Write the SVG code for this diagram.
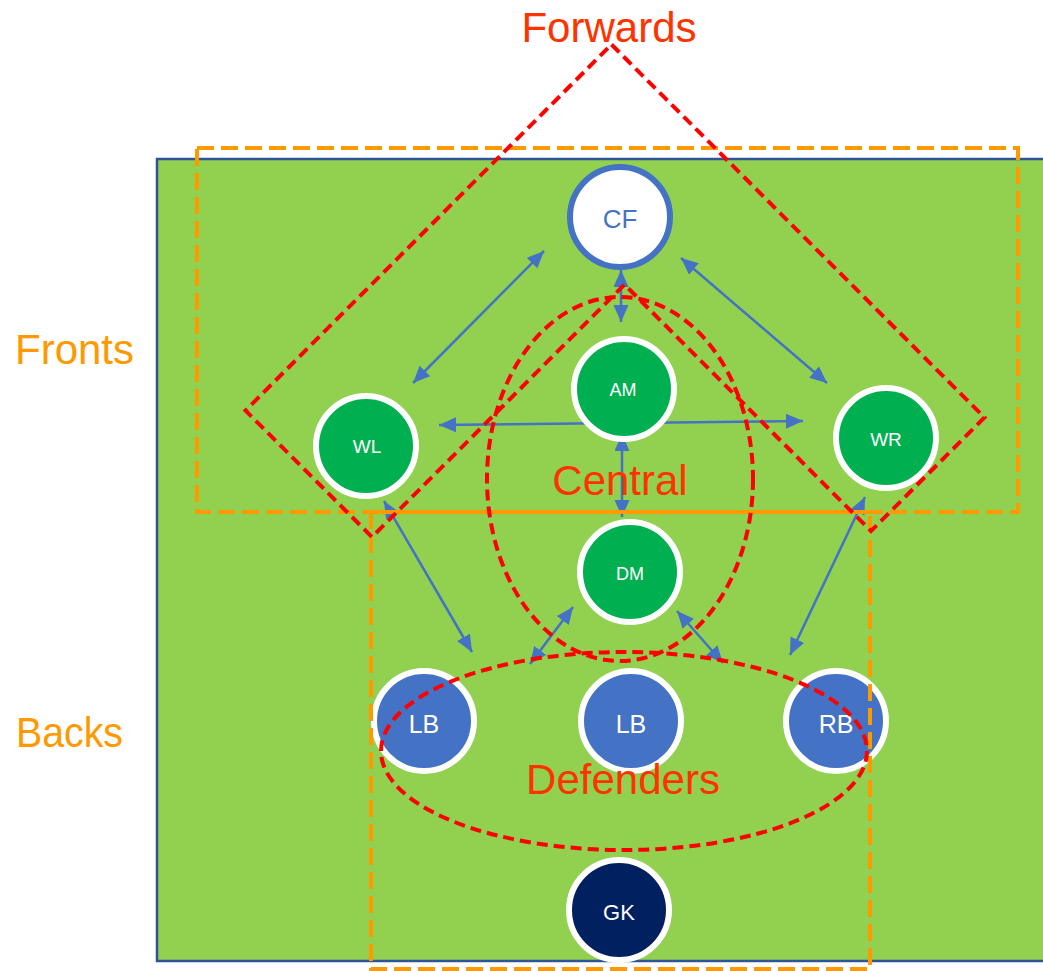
<svg xmlns="http://www.w3.org/2000/svg" width="1043" height="971" viewBox="0 0 1043 971">
<style>
.lbl{font-family:"Liberation Sans",Arial,sans-serif;text-anchor:middle}
.big{font-family:"Liberation Sans",Arial,sans-serif;font-size:42px}
.zone{fill:#FF3300}
.side{fill:#FF9900}
.ring{stroke:#FFFFFF;stroke-width:6}
.green{fill:#00B050}
.blue{fill:#4472C4}
.conn{stroke:#4472C4;stroke-width:2.5;fill:none;marker-start:url(#ah);marker-end:url(#ah)}
.orange{fill:none;stroke:#FF9900;stroke-width:4;stroke-dasharray:17 7}
.red{fill:none;stroke:#FF0000;stroke-width:4;stroke-dasharray:11 6}
</style>
<defs>
<marker id="ah" markerUnits="userSpaceOnUse" markerWidth="18" markerHeight="16" refX="17" refY="7.5" orient="auto-start-reverse" viewBox="0 0 18 16">
<path d="M0,0 L17,7.5 L0,15 z" fill="#4472C4"/>
</marker>
</defs>
<rect width="1043" height="971" fill="#FFFFFF"/>
<rect id="field" x="157" y="159" width="900" height="802" fill="#92D050" stroke="#2F5597" stroke-width="2.5"/>

<g id="connectors">
<line class="conn" x1="544" y1="251" x2="413" y2="383"/>
<line class="conn" x1="681" y1="258" x2="827" y2="383"/>
<line class="conn" x1="621" y1="270" x2="621" y2="322"/>
<line class="conn" x1="439" y1="425" x2="803" y2="421"/>
<line class="conn" x1="622" y1="434" x2="622" y2="517"/>
<line class="conn" x1="384" y1="501" x2="472" y2="652"/>
<line class="conn" x1="865" y1="497" x2="790" y2="655"/>
<line class="conn" x1="573" y1="607" x2="530" y2="664"/>
<line class="conn" x1="677" y1="611" x2="723" y2="663"/>
</g>

<g id="node-CF"><circle cx="620" cy="217" r="50" fill="#FFFFFF" stroke="#4472C4" stroke-width="6"/><text class="lbl" x="620" y="228" font-size="26" fill="#4472C4">CF</text></g>
<g id="node-AM"><circle class="green ring" cx="624" cy="389" r="50"/><text class="lbl" x="623" y="396" font-size="18" fill="#FFFFFF">AM</text></g>
<g id="node-WL"><circle class="green ring" cx="366" cy="446" r="50"/><text class="lbl" x="367" y="453" font-size="19" fill="#FFFFFF">WL</text></g>
<g id="node-WR"><circle class="green ring" cx="886" cy="438" r="50"/><text class="lbl" x="886" y="446" font-size="19" fill="#FFFFFF">WR</text></g>
<g id="node-DM"><circle class="green ring" cx="630" cy="572" r="50"/><text class="lbl" x="630" y="580" font-size="18" fill="#FFFFFF">DM</text></g>
<g id="node-LB1"><circle class="blue ring" cx="424" cy="721" r="50"/><text class="lbl" x="424" y="733" font-size="25" fill="#FFFFFF">LB</text></g>
<g id="node-LB2"><circle class="blue ring" cx="631" cy="721" r="50"/><text class="lbl" x="631" y="733" font-size="25" fill="#FFFFFF">LB</text></g>
<g id="node-RB"><circle class="blue ring" cx="836" cy="721" r="50"/><text class="lbl" x="836" y="733" font-size="25" fill="#FFFFFF">RB</text></g>
<g id="node-GK"><circle class="ring" cx="619" cy="910" r="50" fill="#002060"/><text class="lbl" x="619" y="920" font-size="22" fill="#FFFFFF">GK</text></g>

<g id="zone-fronts-box"><rect class="orange" x="197" y="148" width="821" height="364"/></g>
<g id="zone-backs-box"><path class="orange" d="M371,512 L371,969 L870,969 L870,512"/><line x1="371" y1="512" x2="870" y2="512" stroke="#FF9900" stroke-width="4"/></g>
<g id="zone-forwards"><path class="red" d="M611.5,44.5 L984.5,417.5 L871,531 L624.5,284.5 L372,537 L245.5,410.5 Z"/></g>
<g id="zone-central"><ellipse class="red" cx="620" cy="479" rx="133" ry="182"/></g>
<g id="zone-defenders"><ellipse class="red" cx="624" cy="751" rx="243" ry="99"/></g>

<g id="labels">
<text class="big zone" x="609" y="42" text-anchor="middle">Forwards</text>
<text class="big side" x="15" y="364">Fronts</text>
<text class="big side" x="16" y="747" textLength="107" lengthAdjust="spacingAndGlyphs">Backs</text>
<text class="big zone" x="620" y="495" text-anchor="middle">Central</text>
<text class="big zone" x="623" y="794" text-anchor="middle">Defenders</text>
</g>
</svg>
